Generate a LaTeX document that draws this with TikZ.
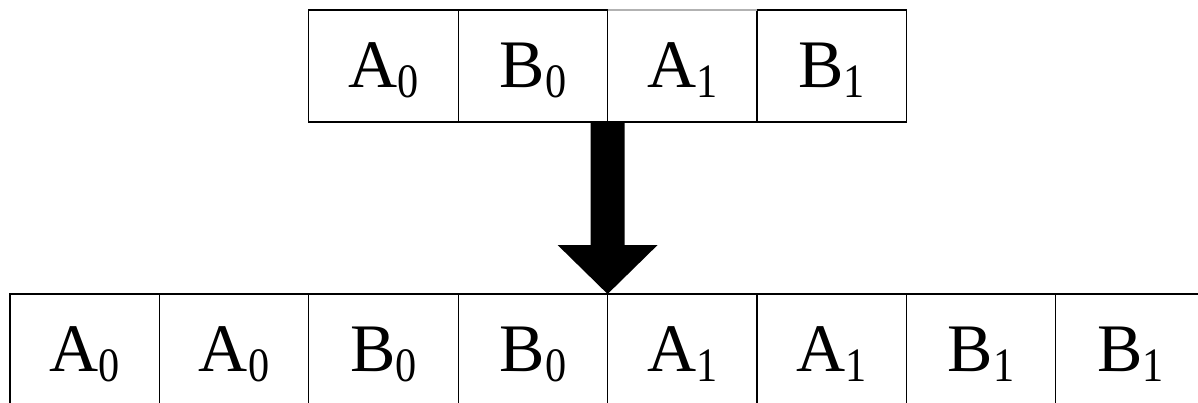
\documentclass[tikz,border=0pt]{standalone}
\usepackage{fontspec}
\setmainfont{Liberation Serif}
\usetikzlibrary{arrows.meta, positioning}

\newcommand{\blk}[2]{#1\raisebox{-10pt}{\fontsize{48}{48}\selectfont\scalebox{0.88}[1]{#2}}}

\tikzset{
  cell/.style={draw, line width=1.2pt, minimum width=149.4pt, minimum height=112pt,
    inner sep=0pt, outer sep=0pt, text height=56pt, text depth=14pt,
    font=\fontsize{68}{80}\selectfont, anchor=north west}
}

\begin{document}
\begin{tikzpicture}[x=1pt, y=-1pt]
\useasboundingbox (0,0) rectangle (1198,402);
\clip (0,0) rectangle (1198,402);
\foreach \i/\l/\s in {0/A/0, 1/B/0, 2/A/1, 3/B/1} {
    \node[cell] (t\i) at (308.8+\i*149.4, 10) {\blk{\l}{\s}};
}
\foreach \i/\l/\s in {0/A/0, 1/A/0, 2/B/0, 3/B/0, 4/A/1, 5/A/1, 6/B/1, 7/B/1} {
    \node[cell] (b\i) at (10+\i*149.4, 294) {\blk{\l}{\s}};
}
\draw[gray!60, line width=1.2pt] (t2.north west) -- (t2.north east);
\draw[line width=34pt, -{Triangle[width=100pt, length=49pt, line width=0pt]}] (t1.south east) -- (b3.north east);
\end{tikzpicture}
\end{document}
